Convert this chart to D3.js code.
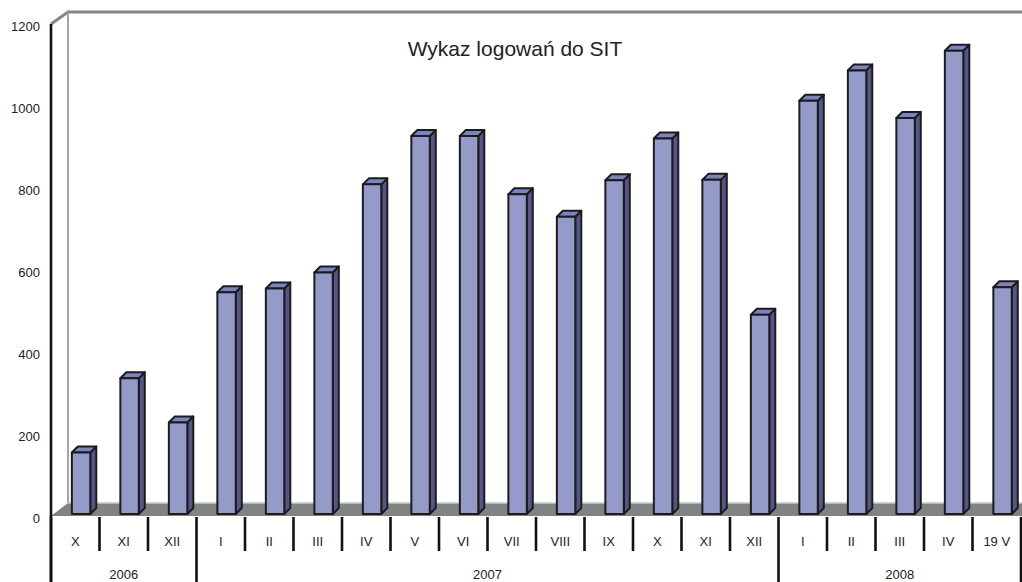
<!DOCTYPE html>
<html>
<head>
<meta charset="utf-8">
<script src="https://cdn.jsdelivr.net/npm/d3@7/dist/d3.min.js"></script>
<style>
  html, body { margin: 0; padding: 0; background: #fff; }
  svg { display: block; }
  text { font-family: "Liberation Sans", Arial, sans-serif; fill: #222; }
</style>
</head>
<body>
<svg id="chart" width="1022" height="582"></svg>
<script>
// Monthly logins to SIT, Oct 2006 – 19 May 2008
const months = ["X","XI","XII","I","II","III","IV","V","VI","VII","VIII","IX","X","XI","XII","I","II","III","IV","19 V"];
const logins = [150,331,223,541,550,589,804,922,922,780,725,814,916,815,486,1008,1082,966,1130,553];
const years = ["2006","2007","2008"];
const yearMonthCounts = [3,12,5];
const yTicks = [0,200,400,600,800,1000,1200];
const title = "Wykaz logowań do SIT";

const W = 1022, H = 582;
const svg = d3.select("#chart");

const left = 51, right = 1021;
const floorFront = 516, topY = 24;
const depthX = 17, depthY = 13;     // perspective offset of the back wall
const barDX = 6, barDY = 6;         // perspective offset of each column

const x = d3.scaleBand().domain(d3.range(months.length)).range([left, right]).paddingInner(0).paddingOuter(0);
const y = d3.scaleLinear().domain([0, 1200]).range([floorFront, topY]);
const bw = x.bandwidth();

// back wall outline
const wall = svg.append("g").attr("fill", "none").attr("stroke", "#858787");
wall.append("path")
  .attr("stroke-width", 3)
  .attr("d", `M${left},${topY} L${left + depthX},${topY - depthY + 1} L${W + 2},${topY - depthY + 1}`);
wall.append("line")
  .attr("stroke-width", 1.8)
  .attr("stroke", "#9a9c9c")
  .attr("x1", left + depthX).attr("x2", left + depthX)
  .attr("y1", topY - depthY + 1).attr("y2", floorFront - depthY);

// floor
svg.append("path")
  .attr("fill", "#7f8383")
  .attr("d", `M${left},${floorFront} L${left + depthX},${floorFront - depthY} L${W + 2},${floorFront - depthY} L${W + 2},${floorFront} Z`);
svg.append("line")
  .attr("stroke", "#c8caca").attr("stroke-width", 1.5)
  .attr("x1", left + depthX).attr("x2", W + 2)
  .attr("y1", floorFront - depthY).attr("y2", floorFront - depthY);

// 3D columns
const base = y(0) - 2;
const bars = svg.append("g").attr("stroke", "#1c1c1c").attr("stroke-width", 2).attr("stroke-linejoin", "round");
logins.forEach((v, i) => {
  const x0 = x(i) + bw * 0.43;
  const w = bw * 0.38;
  const top = y(v) - 2;
  const g = bars.append("g");
  // side face
  g.append("path")
    .attr("fill", "#55558c")
    .attr("d", `M${x0 + w},${top} L${x0 + w + barDX},${top - barDY} L${x0 + w + barDX},${base - barDY} L${x0 + w},${base} Z`);
  // top face
  g.append("path")
    .attr("fill", "#7d83bc")
    .attr("d", `M${x0},${top} L${x0 + barDX},${top - barDY} L${x0 + w + barDX},${top - barDY} L${x0 + w},${top} Z`);
  // front face
  g.append("rect")
    .attr("fill", "#949bc9")
    .attr("x", x0).attr("y", top)
    .attr("width", w).attr("height", base - top);
});

// value axis
svg.append("line")
  .attr("stroke", "#111").attr("stroke-width", 2.6)
  .attr("x1", left).attr("x2", left).attr("y1", topY).attr("y2", H);
svg.append("g").selectAll("text").data(yTicks).join("text")
  .attr("x", 40).attr("y", d => y(d) + 7)
  .attr("text-anchor", "end")
  .attr("font-size", 13)
  .text(d => d);

// category separators
const yearBounds = [0];
yearMonthCounts.forEach(c => yearBounds.push(yearBounds[yearBounds.length - 1] + c));
const seps = d3.range(months.length + 1);
svg.append("g").selectAll("line").data(seps).join("line")
  .attr("stroke", "#111").attr("stroke-width", 2.6)
  .attr("x1", d => d === months.length ? right : x(d))
  .attr("x2", d => d === months.length ? right : x(d))
  .attr("y1", floorFront + 1)
  .attr("y2", d => yearBounds.includes(d) ? H : 551);

// month labels
svg.append("g").selectAll("text").data(months).join("text")
  .attr("x", (d, i) => x(i) + bw / 2)
  .attr("y", 546)
  .attr("text-anchor", "middle")
  .attr("font-size", 13)
  .text(d => d);

// year labels
svg.append("g").selectAll("text").data(years).join("text")
  .attr("x", (d, i) => {
    const a = x(yearBounds[i]);
    const b = yearBounds[i + 1] === months.length ? right : x(yearBounds[i + 1]);
    return (a + b) / 2;
  })
  .attr("y", 579)
  .attr("text-anchor", "middle")
  .attr("font-size", 13)
  .text(d => d);

// title
svg.append("text")
  .attr("x", 515).attr("y", 56)
  .attr("text-anchor", "middle")
  .attr("font-size", 21)
  .text(title);
</script>
</body>
</html>
